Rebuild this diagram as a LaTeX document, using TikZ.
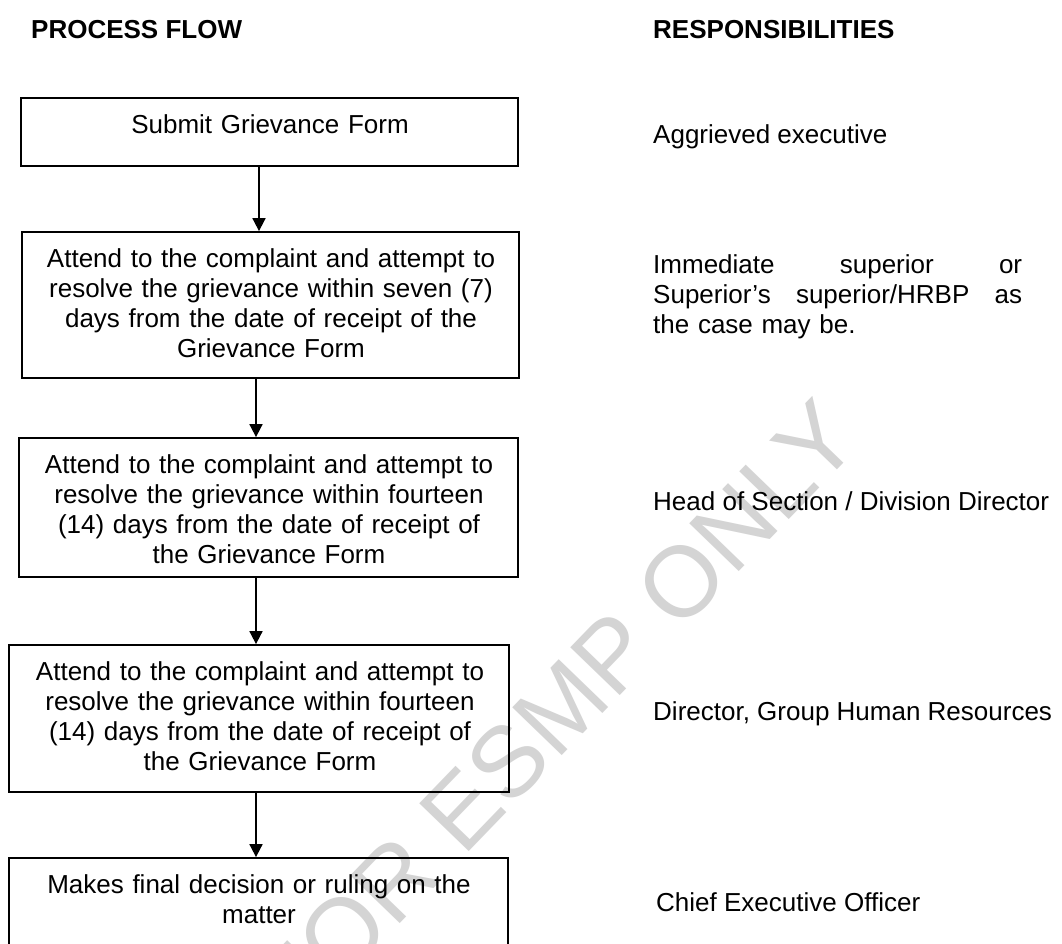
\documentclass[tikz,border=0pt]{standalone}
\usepackage{fontspec}
\setmainfont{Liberation Sans}
\usetikzlibrary{arrows.meta}
\begin{document}
\begin{tikzpicture}[x=1pt,y=-1pt,
  box/.style={draw=black, line width=1.8pt, inner sep=0pt, rectangle},
  flowtext/.style={anchor=base, inner sep=0pt, text width=490pt, align=center, font=\fontsize{26}{30.3}\selectfont},
  resp/.style={anchor=base west, inner sep=0pt, font=\fontsize{26}{30.3}\selectfont},
  heading/.style={anchor=base west, inner sep=0pt, font=\bfseries\fontsize{26}{30.3}\selectfont},
  arr/.style={-{Triangle[width=13pt,length=13pt]}, line width=1.8pt},
  wmtext/.style={inner sep=0pt, text=black!17, font=\fontsize{100}{100}\selectfont}
]
\useasboundingbox (0,0) rectangle (1062,944);
\clip (0,0) rectangle (1062,944);
\fill[white] (0,0) rectangle (1062,944);

% watermark
\node[wmtext, rotate=46] (wm) at (556,712) {FOR ESMP ONLY};

% headings
\node[heading] (h1) at (31,39) {PROCESS FLOW};
\node[heading] (h2) at (653,39) {RESPONSIBILITIES};

% boxes
\node[box, minimum width=497pt, minimum height=68pt]  (b1) at (269.5,132) {};
\node[box, minimum width=497pt, minimum height=146pt] (b2) at (270.5,305) {};
\node[box, minimum width=499pt, minimum height=139pt] (b3) at (268.5,507.5) {};
\node[box, minimum width=500pt, minimum height=147pt] (b4) at (259,718.5) {};
\node[box, minimum width=499pt, minimum height=142pt] (b5) at (258.5,929) {};

% box texts
\node[flowtext] (t1) at (270,134) {Submit Grievance Form};
\node[flowtext] (t2) at (271,267) {Attend to the complaint and attempt to\\resolve the grievance within seven (7)\\days from the date of receipt of the\\Grievance Form};
\node[flowtext] (t3) at (269,473) {Attend to the complaint and attempt to\\resolve the grievance within fourteen\\(14) days from the date of receipt of\\the Grievance Form};
\node[flowtext] (t4) at (260,680) {Attend to the complaint and attempt to\\resolve the grievance within fourteen\\(14) days from the date of receipt of\\the Grievance Form};
\node[flowtext] (t5) at (259,893) {Makes final decision or ruling on the\\matter};

% connectors
\coordinate (ax1) at (259,0);
\coordinate (ax) at (256,0);
\draw[arr] (b1.south -| ax1) -- (b2.north -| ax1);
\draw[arr] (b2.south -| ax) -- (b3.north -| ax);
\draw[arr] (b3.south -| ax) -- (b4.north -| ax);
\draw[arr] (b4.south -| ax) -- (b5.north -| ax);

% responsibilities
\node[resp] (r1) at (653,144) {Aggrieved executive};
\node[resp, text width=369pt, align=left] (r2) at (653,273) {\leavevmode\hbox to 369pt{Immediate\hfill superior\hfill or}\\\leavevmode\hbox to 369pt{Superior’s\hfill superior/HRBP\hfill as}\\the case may be.};
\node[resp] (r3) at (653,510) {Head of Section / Division Director};
\node[resp] (r4) at (653,720) {Director, Group Human Resources};
\node[resp] (r5) at (656,911) {Chief Executive Officer};
\end{tikzpicture}
\end{document}
